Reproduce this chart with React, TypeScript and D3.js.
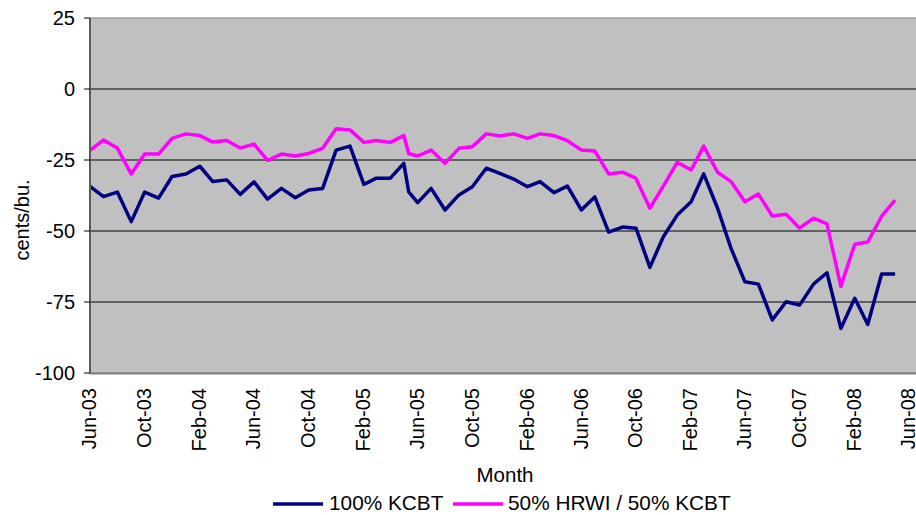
import React from 'react';
import * as d3 from 'd3';

// monthly observations Jun-03 .. May-08, with one extra mid-May-05 point
const monthStart = new Date(2003, 5, 1);
const monthEnd = new Date(2008, 5, 1);
const extraDate = new Date(2005, 4, 12);
const months = d3.timeMonth.range(monthStart, monthEnd);
const dates = [...months.slice(0, 24), extraDate, ...months.slice(24)];

const kcbt = [
  -34.3, -37.9, -36.3, -46.7, -36.3, -38.4, -30.8, -29.9, -27.2, -32.6, -32.0, -37.1,
  -32.7, -38.8, -35.0, -38.3, -35.6, -35.0, -21.5, -20.1, -33.6, -31.4, -31.4, -26.2,
  -36.2,
  -40.0, -35.0, -42.6, -37.3, -34.4, -27.9, -29.7, -31.7, -34.4, -32.6, -36.5, -34.2,
  -42.6, -38.0, -50.4, -48.6, -49.0, -62.8, -52.0, -44.4, -39.7, -29.9, -42.0, -56.1,
  -67.9, -68.7, -81.3, -74.9, -76.1, -68.7, -64.7, -84.3, -73.7, -82.9, -65.1, -65.1,
];

const hrwiKcbt = [
  -21.6, -18.0, -20.8, -29.9, -22.9, -22.9, -17.4, -15.8, -16.4, -18.7, -18.1, -20.8,
  -19.4, -25.1, -22.9, -23.6, -22.7, -20.9, -14.0, -14.4, -18.8, -18.1, -18.8, -16.4,
  -22.7,
  -23.6, -21.5, -26.2, -20.9, -20.3, -15.8, -16.5, -15.8, -17.4, -15.8, -16.4, -18.2,
  -21.5, -21.8, -29.9, -29.3, -31.5, -42.0, -34.2, -25.8, -28.5, -20.1, -29.3, -32.6,
  -39.7, -37.0, -44.7, -44.1, -49.0, -45.5, -47.5, -69.5, -54.7, -53.9, -44.8, -39.1,
];

const yTicks = [25, 0, -25, -50, -75, -100];
const gridValues = [0, -25, -50, -75];

const seriesNames = ['100% KCBT', '50% HRWI / 50% KCBT'];
const seriesColors = ['#000080', '#ff00ff'];

const W = 916;
const H = 515;
const font = '"Liberation Sans", Arial, sans-serif';

export default function App() {
  const left = 90, top = 18, bottom = 373;

  const x = d3.scaleTime().domain([monthStart, monthEnd]).range([left, 909]);
  const y = d3.scaleLinear().domain([-100, 25]).range([bottom, top]);

  const tickDates = d3.timeMonth.range(monthStart, new Date(2008, 5, 2), 4);
  const fmt = d3.timeFormat('%b-%y');

  const line = d3.line<number>()
    .x((_, i) => x(dates[i]))
    .y(d => y(d));

  const series = [kcbt, hrwiKcbt];

  return (
    <svg width={W} height={H} style={{ position: 'absolute', left: 0, top: 0, background: '#fff' }}
      fontFamily={font}>
      {/* plot area */}
      <rect x={left} y={top} width={W - left + 4} height={bottom - top}
        fill="#c0c0c0" stroke="#808080" strokeWidth={1} />

      {/* gridlines */}
      {gridValues.map(v => (
        <line key={v} x1={left} x2={W} y1={y(v)} y2={y(v)} stroke="#000" strokeWidth={1} />
      ))}

      {/* series */}
      {series.map((s, i) => (
        <path key={i} d={line(s) ?? ''} fill="none" stroke={seriesColors[i]}
          strokeWidth={3.5} strokeLinejoin="round" />
      ))}

      {/* axes lines */}
      <line x1={left} x2={left} y1={top} y2={bottom + 1} stroke="#5a5a5a" strokeWidth={2} />
      <line x1={left} x2={W} y1={bottom + 0.5} y2={bottom + 0.5} stroke="#808080" strokeWidth={2} />

      {/* y axis ticks and labels */}
      {yTicks.map(v => (
        <g key={v}>
          <line x1={left - 6} x2={left} y1={y(v)} y2={y(v)} stroke="#000" strokeWidth={1} />
          <text x={75} y={y(v)} dy="0.36em" textAnchor="end" fontSize={20} fill="#000">{v}</text>
        </g>
      ))}

      {/* x axis labels */}
      {tickDates.map(d => (
        <text key={+d} transform={`translate(${x(d) - 1},388) rotate(-90)`} dy="0.36em"
          textAnchor="end" fontSize={20} fill="#000">{fmt(d)}</text>
      ))}

      {/* axis titles */}
      <text transform="translate(22,220) rotate(-90)" dy="0.35em" textAnchor="middle"
        fontSize={20} fill="#000">cents/bu.</text>
      <text x={505} y={482} textAnchor="middle" fontSize={20.5} fill="#000">Month</text>

      {/* legend */}
      <line x1={273} x2={323} y1={504} y2={504} stroke={seriesColors[0]} strokeWidth={3.5} />
      <text x={329} y={510} fontSize={20.8} fill="#000">{seriesNames[0]}</text>
      <line x1={453} x2={503} y1={504} y2={504} stroke={seriesColors[1]} strokeWidth={3.5} />
      <text x={508} y={510} fontSize={20.8} fill="#000">{seriesNames[1]}</text>
    </svg>
  );
}
